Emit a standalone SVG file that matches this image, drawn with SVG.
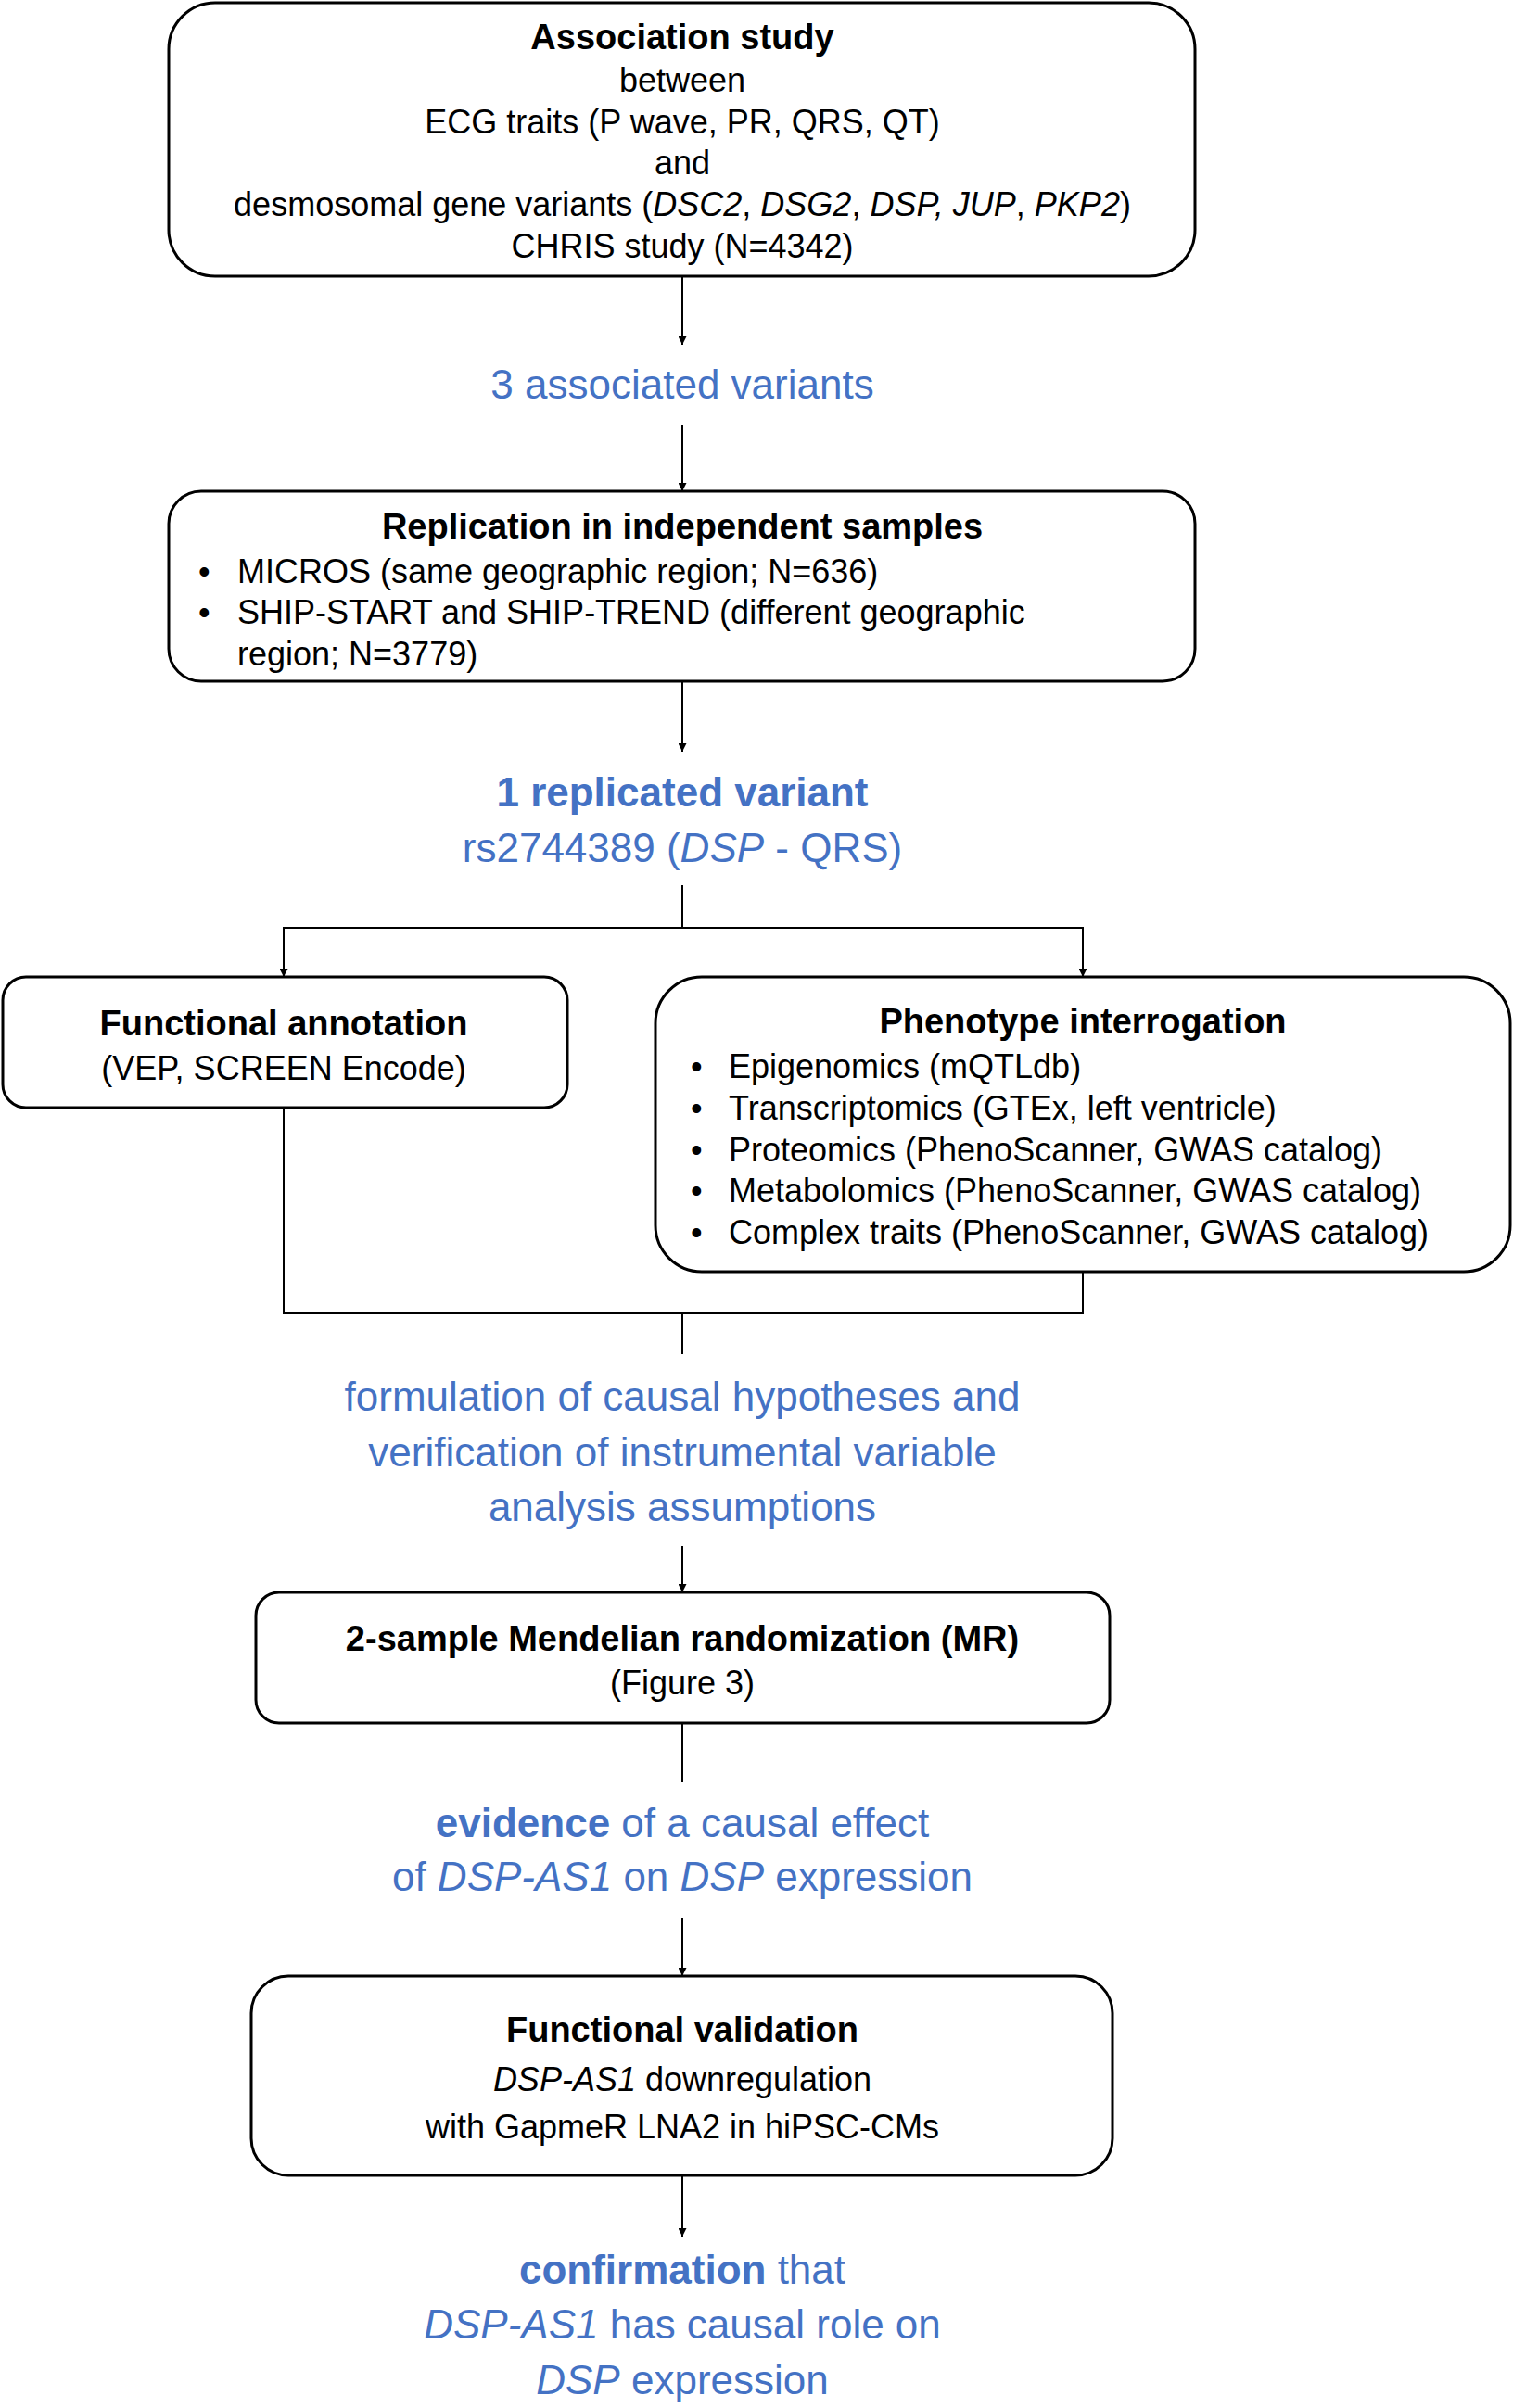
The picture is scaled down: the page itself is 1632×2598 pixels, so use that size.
<svg xmlns="http://www.w3.org/2000/svg" width="1632" height="2598" viewBox="0 0 1632 2598">
<style>
text{font-family:"Liberation Sans",Arial,sans-serif;dominant-baseline:central}
.b{fill:#fff;stroke:#000;stroke-width:3}
.t{font-size:36px;fill:#000}
.c{text-anchor:middle}
.h{font-weight:bold;font-size:38px}
.bl{fill:#4472C4;font-size:44px;text-anchor:middle}
.i{font-style:italic}
.w{font-weight:bold}
.ln{fill:none;stroke:#000;stroke-width:2}
</style>
<defs><marker id="a" viewBox="0 0 10 10" refX="10" refY="5" markerWidth="9" markerHeight="9" markerUnits="userSpaceOnUse" orient="auto"><path d="M0,0L10,5L0,10z"/></marker></defs>
<rect width="1632" height="2598" fill="#fff"/>
<g id="connectors">
<line class="ln" x1="736" y1="298" x2="736" y2="372" marker-end="url(#a)"/>
<line class="ln" x1="736" y1="458" x2="736" y2="530" marker-end="url(#a)"/>
<line class="ln" x1="736" y1="735" x2="736" y2="811" marker-end="url(#a)"/>
<path class="ln" d="M736,955V1001H306V1054M736,1001H1168V1054" marker-end="url(#a)"/>
<path class="ln" d="M306,1001V1054" marker-end="url(#a)"/>
<path class="ln" d="M306,1195V1417H1168V1372M736,1417V1461"/>
<line class="ln" x1="736" y1="1668" x2="736" y2="1718" marker-end="url(#a)"/>
<line class="ln" x1="736" y1="1859" x2="736" y2="1923"/>
<line class="ln" x1="736" y1="2069" x2="736" y2="2132" marker-end="url(#a)"/>
<line class="ln" x1="736" y1="2347" x2="736" y2="2413" marker-end="url(#a)"/>
</g>
<g id="n1">
<rect class="b" x="182" y="3" width="1107" height="295" rx="50"/>
<text class="t c h" x="736" y="40">Association study</text>
<text class="t c" x="736" y="86">between</text>
<text class="t c" x="736" y="131">ECG traits (P wave, PR, QRS, QT)</text>
<text class="t c" x="736" y="175">and</text>
<text class="t c" x="736" y="220">desmosomal gene variants (<tspan class="i">DSC2</tspan>, <tspan class="i">DSG2</tspan>, <tspan class="i">DSP, JUP</tspan>, <tspan class="i">PKP2</tspan>)</text>
<text class="t c" x="736" y="265">CHRIS study (N=4342)</text>
</g>
<g id="n2"><text class="bl" x="736" y="414">3 associated variants</text></g>
<g id="n3">
<rect class="b" x="182" y="530" width="1107" height="205" rx="35"/>
<text class="t c h" x="736" y="568">Replication in independent samples</text>
<text class="t" x="214" y="616">•</text><text class="t" x="256" y="616">MICROS (same geographic region; N=636)</text>
<text class="t" x="214" y="660">•</text><text class="t" x="256" y="660">SHIP-START and SHIP-TREND (different geographic</text>
<text class="t" x="256" y="705">region; N=3779)</text>
</g>
<g id="n4">
<text class="bl w" x="736" y="854">1 replicated variant</text>
<text class="bl" x="736" y="914">rs2744389 (<tspan class="i">DSP</tspan> - QRS)</text>
</g>
<g id="n5">
<rect class="b" x="3" y="1054" width="609" height="141" rx="25"/>
<text class="t c h" x="306" y="1104">Functional annotation</text>
<text class="t c" x="306" y="1152">(VEP, SCREEN Encode)</text>
</g>
<g id="n6">
<rect class="b" x="707" y="1054" width="922" height="318" rx="50"/>
<text class="t c h" x="1168" y="1102">Phenotype interrogation</text>
<text class="t" x="745" y="1150">•</text><text class="t" x="786" y="1150">Epigenomics (mQTLdb)</text>
<text class="t" x="745" y="1195">•</text><text class="t" x="786" y="1195">Transcriptomics (GTEx, left ventricle)</text>
<text class="t" x="745" y="1240">•</text><text class="t" x="786" y="1240">Proteomics (PhenoScanner, GWAS catalog)</text>
<text class="t" x="745" y="1284">•</text><text class="t" x="786" y="1284">Metabolomics (PhenoScanner, GWAS catalog)</text>
<text class="t" x="745" y="1329">•</text><text class="t" x="786" y="1329">Complex traits (PhenoScanner, GWAS catalog)</text>
</g>
<g id="n7">
<text class="bl" x="736" y="1506">formulation of causal hypotheses and</text>
<text class="bl" x="736" y="1566">verification of instrumental variable</text>
<text class="bl" x="736" y="1625">analysis assumptions</text>
</g>
<g id="n8">
<rect class="b" x="276" y="1718" width="921" height="141" rx="25"/>
<text class="t c h" x="736" y="1768">2-sample Mendelian randomization (MR)</text>
<text class="t c" x="736" y="1815">(Figure 3)</text>
</g>
<g id="n9">
<text class="bl" x="736" y="1966"><tspan class="w">evidence</tspan> of a causal effect</text>
<text class="bl" x="736" y="2024">of <tspan class="i">DSP-AS1</tspan> on <tspan class="i">DSP</tspan> expression</text>
</g>
<g id="n10">
<rect class="b" x="271" y="2132" width="929" height="215" rx="40"/>
<text class="t c h" x="736" y="2190">Functional validation</text>
<text class="t c" x="736" y="2243"><tspan class="i">DSP-AS1</tspan> downregulation</text>
<text class="t c" x="736" y="2294">with GapmeR LNA2 in hiPSC-CMs</text>
</g>
<g id="n11">
<text class="bl" x="736" y="2448"><tspan class="w">confirmation</tspan> that</text>
<text class="bl" x="736" y="2507"><tspan class="i">DSP-AS1</tspan> has causal role on</text>
<text class="bl" x="736" y="2567"><tspan class="i">DSP</tspan> expression</text>
</g>
</svg>
